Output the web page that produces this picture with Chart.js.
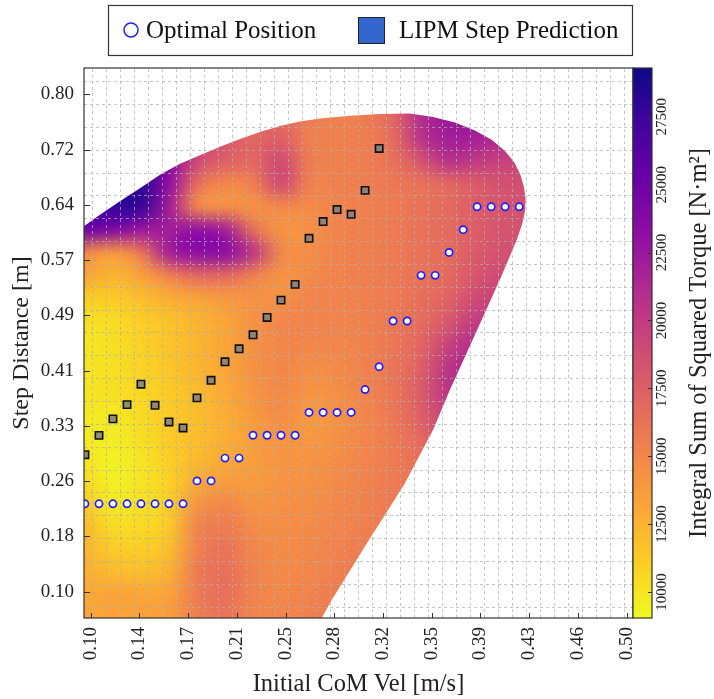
<!DOCTYPE html>
<html>
<head>
<meta charset="utf-8">
<title>Step distance vs initial CoM velocity</title>
<script src="https://cdn.jsdelivr.net/npm/chart.js@4.4.1/dist/chart.umd.min.js"></script>
<style>
    html, body { margin: 0; padding: 0; background: #ffffff; }
    #wrap { width: 714px; height: 699px; }
</style>
</head>
<body>
<div id="wrap"><canvas id="torqueChart" width="714" height="699"></canvas></div>
<script>
// axis ticks
const velTicks = [0.1, 0.13636, 0.17273, 0.20909, 0.24545, 0.28182, 0.31818, 0.35455, 0.39091, 0.42727, 0.46364, 0.5];
const velTickLabels = ['0.10', '0.14', '0.17', '0.21', '0.25', '0.28', '0.32', '0.35', '0.39', '0.43', '0.46', '0.50'];
const stepTicks = [0.1, 0.17778, 0.25556, 0.33333, 0.41111, 0.48889, 0.56667, 0.64444, 0.72222, 0.8];
const stepTickLabels = ['0.10', '0.18', '0.26', '0.33', '0.41', '0.49', '0.57', '0.64', '0.72', '0.80'];
const torqueTicks = [10000, 12500, 15000, 17500, 20000, 22500, 25000, 27500];
const torqueMin = 9040;
const torqueMax = 29300;

// simulated grid (initial velocity x step distance)
const velSamples = [0.0958, 0.1063, 0.1167, 0.1272, 0.1376, 0.1481, 0.1585, 0.1690, 0.1794, 0.1899,
    0.2003, 0.2108, 0.2212, 0.2317, 0.2421, 0.2526, 0.2630, 0.2735, 0.2839, 0.2944,
    0.3048, 0.3153, 0.3257, 0.3362, 0.3466, 0.3571, 0.3675, 0.3780, 0.3884, 0.3989,
    0.4093, 0.4198, 0.4302, 0.4407, 0.4511, 0.4616, 0.4720, 0.4825, 0.4929, 0.5034];
const stepSamples = [0.0629, 0.0951, 0.1272, 0.1594, 0.1915, 0.2237, 0.2559, 0.2880, 0.3202, 0.3523,
    0.3845, 0.4167, 0.4488, 0.4810, 0.5131, 0.5453, 0.5775, 0.6096, 0.6418, 0.6739,
    0.7061, 0.7383, 0.7704, 0.8026, 0.8347];

// optimal footstep per initial velocity
const optimalVel = [0.0958, 0.1063, 0.1167, 0.1272, 0.1376, 0.1481, 0.1585, 0.1690, 0.1794, 0.1899,
    0.2003, 0.2108, 0.2212, 0.2317, 0.2421, 0.2526, 0.2630, 0.2735, 0.2839, 0.2944,
    0.3048, 0.3153, 0.3257, 0.3362, 0.3466, 0.3571, 0.3675, 0.3780, 0.3884, 0.3989, 0.4093, 0.4198];
const optimalStep = [0.2237, 0.2237, 0.2237, 0.2237, 0.2237, 0.2237, 0.2237, 0.2237, 0.2559, 0.2559,
    0.2880, 0.2880, 0.3202, 0.3202, 0.3202, 0.3202, 0.3523, 0.3523, 0.3523, 0.3523,
    0.3845, 0.4167, 0.4810, 0.4810, 0.5453, 0.5453, 0.5775, 0.6096, 0.6418, 0.6418, 0.6418, 0.6418];

// LIPM capture-step prediction
const lipmVel = [0.0958, 0.1063, 0.1167, 0.1272, 0.1376, 0.1481, 0.1585, 0.1690, 0.1794, 0.1899,
    0.2003, 0.2108, 0.2212, 0.2317, 0.2421, 0.2526, 0.2630, 0.2735, 0.2839, 0.2944, 0.3048, 0.3153];
const lipmStep = [0.2928, 0.3200, 0.3432, 0.3633, 0.3920, 0.3623, 0.3389, 0.3305, 0.3728, 0.3976,
    0.4236, 0.4419, 0.4616, 0.4860, 0.5104, 0.5326, 0.5975, 0.6210, 0.6379, 0.6313, 0.6649, 0.7240];

// integral of squared torque, coarse grid: columns = torqueVel, rows = torqueStep (top row first)
const torqueVel = [0.0958, 0.1167, 0.1376, 0.1585, 0.1794, 0.2003, 0.2212, 0.2421, 0.2630, 0.2839,
    0.3048, 0.3257, 0.3466, 0.3675, 0.3884, 0.4093, 0.4302, 0.4511];
const torqueStep = [0.8347, 0.8026, 0.7704, 0.7383, 0.7061, 0.6739, 0.6418, 0.6096, 0.5775, 0.5453,
    0.5131, 0.4810, 0.4488, 0.4167, 0.3845, 0.3523, 0.3202, 0.2880, 0.2559, 0.2237,
    0.1915, 0.1594, 0.1272, 0.0951, 0.0629];
const torqueGrid = [
    [27780, 28290, 28290, 25720, 19530, 17980, 16950, 16950, 15610, 15400, 15610, 16950, 21080, 22420, 22420, 21590, 20560, 20560],
    [27780, 28290, 28290, 25720, 19530, 17980, 16950, 16950, 15610, 15400, 15610, 16950, 21080, 22420, 22420, 21590, 20560, 20560],
    [27780, 28290, 28290, 25720, 19530, 17980, 16950, 16950, 15610, 15400, 15610, 16950, 21080, 22420, 22420, 21590, 20560, 20560],
    [27780, 28290, 28290, 24690, 19530, 17980, 16950, 17470, 15400, 15300, 15510, 16640, 20560, 22110, 21900, 21080, 20560, 20560],
    [27780, 28290, 28290, 23650, 19010, 17470, 16950, 19010, 15610, 15300, 15510, 16230, 18290, 20770, 20040, 19530, 19010, 19010],
    [27780, 28290, 28090, 23140, 16440, 14890, 15400, 19010, 15400, 15300, 15510, 15820, 16230, 16950, 17780, 18500, 18810, 18810],
    [26750, 27780, 27780, 22110, 14890, 14370, 14370, 14890, 14790, 15200, 15400, 15710, 16230, 16750, 17670, 18290, 18500, 18500],
    [25200, 24170, 22620, 22110, 23140, 22110, 16440, 14170, 14370, 15200, 15400, 15710, 16230, 16750, 17670, 18290, 18500, 18500],
    [14890, 13860, 15920, 22110, 23450, 23450, 20560, 14890, 14580, 15200, 15400, 15710, 16230, 16750, 17880, 18500, 18700, 18700],
    [13340, 12310, 13340, 15400, 16950, 16950, 15400, 14170, 14790, 15200, 15400, 15710, 16230, 16750, 18290, 19010, 19010, 19010],
    [11070, 11280, 11900, 12720, 13340, 13860, 14370, 14370, 15200, 15200, 15300, 15710, 16440, 17260, 19010, 19530, 19530, 19530],
    [10250, 10460, 11070, 11690, 12310, 13140, 14370, 14990, 15100, 15100, 15300, 15820, 16640, 17980, 20040, 20350, 20350, 20350],
    [9840, 10250, 10870, 11590, 12310, 13140, 14370, 14990, 14990, 14990, 15300, 15920, 17050, 19530, 21180, 21180, 21180, 21180],
    [10040, 10250, 10870, 11490, 12310, 13140, 14370, 14990, 14580, 14790, 15300, 16020, 17470, 20560, 21390, 21390, 21390, 21390],
    [10040, 10250, 10660, 11280, 12100, 12930, 14170, 14890, 14170, 14580, 15200, 16020, 17780, 20560, 21080, 21080, 21080, 21080],
    [9840, 9840, 10460, 11280, 11900, 12720, 13860, 14680, 13860, 14370, 14990, 15920, 17470, 20040, 20560, 20560, 20560, 20560],
    [9730, 9630, 10250, 11280, 11900, 12620, 13550, 14370, 13860, 14370, 14990, 15710, 16950, 19010, 19530, 19530, 19530, 19530],
    [10040, 9420, 10040, 11070, 12100, 12830, 13550, 14170, 14170, 14580, 15100, 15710, 16440, 17470, 17470, 17470, 17470, 17470],
    [10460, 9420, 10040, 10870, 12830, 13650, 13750, 14170, 14370, 14790, 15200, 15710, 16230, 16440, 16440, 16440, 16440, 16440],
    [11280, 9730, 10250, 11070, 14170, 14890, 14170, 14370, 14580, 14890, 15300, 15820, 16230, 16230, 16230, 16230, 16230, 16230],
    [12100, 10460, 10560, 11280, 15200, 15710, 14680, 14580, 14790, 14990, 15400, 15920, 16230, 16230, 16230, 16230, 16230, 16230],
    [12310, 11280, 11070, 11900, 15400, 16230, 14990, 14680, 14890, 15200, 15710, 15920, 15920, 15920, 15920, 15920, 15920, 15920],
    [12620, 12100, 11900, 12520, 15710, 16440, 15200, 14790, 14990, 15400, 15920, 15920, 15920, 15920, 15920, 15920, 15920, 15920],
    [12930, 13340, 13140, 13340, 15710, 16440, 15200, 14890, 15200, 15710, 15920, 15920, 15920, 15920, 15920, 15920, 15920, 15920],
    [13140, 13140, 13340, 13650, 15400, 16230, 14990, 14990, 15400, 15920, 15920, 15920, 15920, 15920, 15920, 15920, 15920, 15920]
];

// outline of the region where a recovery step exists
const regionVel = [0.0900, 0.0921, 0.0951, 0.1070, 0.1219, 0.1369, 0.1518, 0.1667, 0.1816, 0.1966,
    0.2115, 0.2264, 0.2413, 0.2563, 0.2712, 0.2913, 0.3159, 0.3383, 0.3555, 0.3719,
    0.3868, 0.3995, 0.4092, 0.4160, 0.4205, 0.4234, 0.4246, 0.4242, 0.4220, 0.4182,
    0.4122, 0.4055, 0.3931, 0.3807, 0.3682, 0.3557, 0.3339, 0.3078, 0.2799, 0.2725,
    0.2696, 0.0900];
const regionStep = [0.6104, 0.6104, 0.6144, 0.6306, 0.6496, 0.6680, 0.6870, 0.7025, 0.7145, 0.7265,
    0.7371, 0.7470, 0.7555, 0.7618, 0.7660, 0.7695, 0.7724, 0.7731, 0.7681, 0.7604,
    0.7491, 0.7357, 0.7202, 0.7047, 0.6878, 0.6695, 0.6526, 0.6357, 0.6174, 0.5963,
    0.5695, 0.5399, 0.4879, 0.4364, 0.3845, 0.3281, 0.2505, 0.1729, 0.0883, 0.0629,
    0.0530, 0.0530];

const FONT = "'Liberation Serif', 'Times New Roman', serif";
const plasmaStops = ['#0d0887', '#41049d', '#6a00a8', '#8f0da4', '#b12a90', '#cc4778',
    '#e16462', '#f2844b', '#fca636', '#fcce25', '#f0f921'];

function hexToRgb(h) {
    return [parseInt(h.slice(1, 3), 16), parseInt(h.slice(3, 5), 16), parseInt(h.slice(5, 7), 16)];
}
const plasmaRgb = plasmaStops.map(hexToRgb);

// t = 0 -> dark blue, t = 1 -> yellow
function plasma(t) {
    t = Math.min(1, Math.max(0, t));
    const f = t * (plasmaRgb.length - 1);
    const i = Math.min(plasmaRgb.length - 2, Math.floor(f));
    const r = f - i;
    const a = plasmaRgb[i], b = plasmaRgb[i + 1];
    return [0, 1, 2].map(k => Math.round(a[k] + (b[k] - a[k]) * r));
}

function torqueColor(val) {
    return plasma(1 - (val - torqueMin) / (torqueMax - torqueMin));
}

const heatmapPlugin = {
    id: 'heatmap',
    beforeDatasetsDraw(chart) {
        const { ctx, chartArea, scales: { x, y } } = chart;
        const nx = torqueVel.length, ny = torqueStep.length;

        const off = document.createElement('canvas');
        off.width = nx;
        off.height = ny;
        const octx = off.getContext('2d');
        const img = octx.createImageData(nx, ny);
        for (let j = 0; j < ny; j++) {
            for (let i = 0; i < nx; i++) {
                const c = torqueColor(torqueGrid[j][i]);
                const k = (j * nx + i) * 4;
                img.data[k] = c[0];
                img.data[k + 1] = c[1];
                img.data[k + 2] = c[2];
                img.data[k + 3] = 255;
            }
        }
        octx.putImageData(img, 0, 0);

        const x0 = x.getPixelForValue(torqueVel[0]);
        const x1 = x.getPixelForValue(torqueVel[nx - 1]);
        const y0 = y.getPixelForValue(torqueStep[0]);
        const y1 = y.getPixelForValue(torqueStep[ny - 1]);
        const cw = (x1 - x0) / (nx - 1);
        const ch = (y1 - y0) / (ny - 1);

        ctx.save();
        ctx.beginPath();
        ctx.rect(chartArea.left, chartArea.top, chartArea.width, chartArea.height);
        ctx.clip();
        ctx.beginPath();
        regionVel.forEach((v, i) => {
            const px = x.getPixelForValue(v);
            const py = y.getPixelForValue(regionStep[i]);
            if (i === 0) ctx.moveTo(px, py); else ctx.lineTo(px, py);
        });
        ctx.closePath();
        ctx.clip();
        ctx.imageSmoothingEnabled = true;
        ctx.imageSmoothingQuality = 'high';
        ctx.drawImage(off, x0 - cw / 2, y0 - ch / 2, cw * nx, ch * ny);
        ctx.restore();

        // dashed grid on the cell edges
        ctx.save();
        ctx.beginPath();
        ctx.rect(chartArea.left, chartArea.top, chartArea.width, chartArea.height);
        ctx.clip();
        ctx.strokeStyle = 'rgba(175, 175, 175, 0.7)';
        ctx.lineWidth = 1;
        ctx.setLineDash([3, 3]);
        for (let i = 0; i < velSamples.length - 1; i++) {
            const px = Math.round(x.getPixelForValue((velSamples[i] + velSamples[i + 1]) / 2)) + 0.5;
            ctx.beginPath();
            ctx.moveTo(px, chartArea.bottom);
            ctx.lineTo(px, chartArea.top);
            ctx.stroke();
        }
        for (let j = 0; j < stepSamples.length - 1; j++) {
            const py = Math.round(y.getPixelForValue((stepSamples[j] + stepSamples[j + 1]) / 2)) + 0.5;
            ctx.beginPath();
            ctx.moveTo(chartArea.left, py);
            ctx.lineTo(chartArea.right, py);
            ctx.stroke();
        }
        ctx.restore();
    }
};

const framePlugin = {
    id: 'frame',
    afterDraw(chart) {
        const { ctx, chartArea, scales: { x, y } } = chart;
        const { left, right, top, bottom } = chartArea;

        // inward tick marks
        ctx.save();
        ctx.strokeStyle = '#333';
        ctx.lineWidth = 1;
        velTicks.forEach(v => {
            const px = Math.round(x.getPixelForValue(v)) + 0.5;
            ctx.beginPath();
            ctx.moveTo(px, bottom);
            ctx.lineTo(px, bottom - 5);
            ctx.stroke();
        });
        stepTicks.forEach(s => {
            const py = Math.round(y.getPixelForValue(s)) + 0.5;
            ctx.beginPath();
            ctx.moveTo(left, py);
            ctx.lineTo(left + 6, py);
            ctx.stroke();
        });
        ctx.lineWidth = 1.2;
        ctx.strokeRect(left, top, right - left, bottom - top);

        // colour bar
        const cbLeft = right, cbWidth = 19;
        const grad = ctx.createLinearGradient(0, bottom, 0, top);
        plasmaStops.forEach((c, i) => grad.addColorStop(1 - i / (plasmaStops.length - 1), c));
        ctx.fillStyle = grad;
        ctx.fillRect(cbLeft, top, cbWidth, bottom - top);
        ctx.strokeRect(cbLeft, top, cbWidth, bottom - top);
        ctx.fillStyle = '#222';
        ctx.font = '15px ' + FONT;
        ctx.textAlign = 'center';
        ctx.textBaseline = 'middle';
        ctx.lineWidth = 1;
        torqueTicks.forEach(t => {
            const py = bottom - (t - torqueMin) / (torqueMax - torqueMin) * (bottom - top);
            ctx.beginPath();
            ctx.moveTo(cbLeft + cbWidth, Math.round(py) + 0.5);
            ctx.lineTo(cbLeft + cbWidth - 4, Math.round(py) + 0.5);
            ctx.stroke();
            ctx.save();
            ctx.translate(cbLeft + cbWidth + 10, py);
            ctx.rotate(-Math.PI / 2);
            ctx.fillText(String(t), 0, 0);
            ctx.restore();
        });
        ctx.save();
        ctx.font = '24.5px ' + FONT;
        ctx.translate(700, (top + bottom) / 2);
        ctx.rotate(-Math.PI / 2);
        ctx.fillText('Integral Sum of Squared Torque [N\u00b7m\u00b2]', 0, 0);
        ctx.restore();

        // legend
        ctx.lineWidth = 1.2;
        ctx.strokeStyle = '#333';
        ctx.strokeRect(108.5, 5.5, 524, 50);
        ctx.beginPath();
        ctx.arc(131, 30, 7, 0, Math.PI * 2);
        ctx.strokeStyle = '#1f1fff';
        ctx.lineWidth = 1.5;
        ctx.stroke();
        ctx.fillStyle = '#3366cc';
        ctx.fillRect(358, 17, 26, 26);
        ctx.strokeStyle = '#222';
        ctx.lineWidth = 1;
        ctx.strokeRect(358.5, 17.5, 26, 26);
        ctx.fillStyle = '#111';
        ctx.font = '25px ' + FONT;
        ctx.textAlign = 'left';
        ctx.textBaseline = 'middle';
        ctx.fillText('Optimal Position', 146, 31);
        ctx.fillText('LIPM Step Prediction', 399, 31);
        ctx.restore();
    }
};

function toPoints(xs, ys) {
    return xs.map((v, i) => ({ x: v, y: ys[i] }));
}

const ctx = document.getElementById('torqueChart').getContext('2d');
new Chart(ctx, {
    type: 'scatter',
    data: {
        datasets: [{
            label: 'Optimal Position',
            data: toPoints(optimalVel, optimalStep),
            pointStyle: 'circle',
            pointRadius: 3.6,
            pointBorderWidth: 1.7,
            pointBorderColor: '#1f1fff',
            pointBackgroundColor: '#ffffff',
            clip: 0
        }, {
            label: 'LIPM Step Prediction',
            data: toPoints(lipmVel, lipmStep),
            pointStyle: 'rect',
            pointRadius: 5.2,
            pointBorderWidth: 1.6,
            pointBorderColor: '#111111',
            pointBackgroundColor: 'rgba(128, 128, 128, 0.85)',
            clip: 0
        }]
    },
    options: {
        responsive: false,
        animation: false,
        layout: { padding: { top: 68, right: 81, left: 0, bottom: 0 } },
        plugins: { legend: { display: false }, tooltip: { enabled: false } },
        scales: {
            x: {
                type: 'linear',
                min: 0.0951,
                max: 0.5047,
                afterFit: scale => { scale.height = 81; },
                afterBuildTicks: scale => { scale.ticks = velTicks.map(v => ({ value: v })); },
                grid: { display: false, drawTicks: false },
                border: { display: false },
                ticks: {
                    autoSkip: false,
                    minRotation: 90,
                    maxRotation: 90,
                    padding: 9,
                    color: '#222',
                    font: { family: FONT, size: 19 },
                    callback: (value, index) => velTickLabels[index]
                },
                title: {
                    display: true,
                    text: 'Initial CoM Vel [m/s]',
                    color: '#222',
                    font: { family: FONT, size: 24.5 },
                    padding: { top: 2, bottom: 0 }
                }
            },
            y: {
                type: 'linear',
                min: 0.0629,
                max: 0.8372,
                afterFit: scale => { scale.width = 84; },
                afterBuildTicks: scale => { scale.ticks = stepTicks.map(v => ({ value: v })); },
                grid: { display: false, drawTicks: false },
                border: { display: false },
                ticks: {
                    autoSkip: false,
                    padding: 10,
                    color: '#222',
                    font: { family: FONT, size: 19 },
                    callback: (value, index) => stepTickLabels[index]
                },
                title: {
                    display: true,
                    text: 'Step Distance [m]',
                    color: '#222',
                    font: { family: FONT, size: 24 },
                    padding: { top: 7, bottom: 0 }
                }
            }
        }
    },
    plugins: [heatmapPlugin, framePlugin]
});
</script>
</body>
</html>
